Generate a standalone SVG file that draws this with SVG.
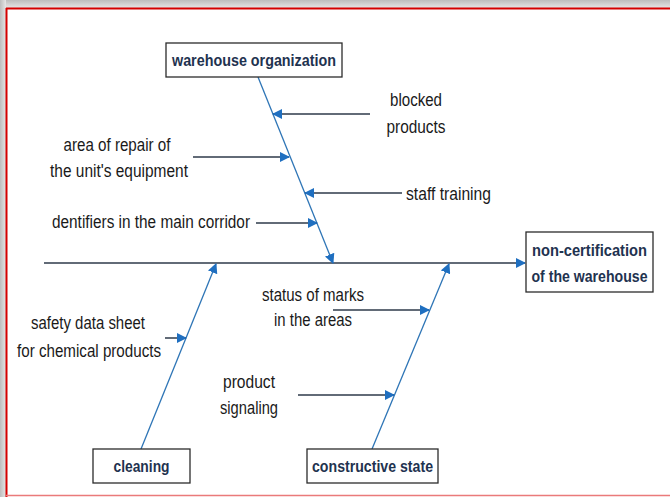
<svg xmlns="http://www.w3.org/2000/svg" width="670" height="497" viewBox="0 0 670 497">
  <defs>
    <linearGradient id="shadeTop" x1="0" y1="0" x2="0" y2="1">
      <stop offset="0" stop-color="#bdbdbd"/>
      <stop offset="1" stop-color="#e6e6e6"/>
    </linearGradient>
    <linearGradient id="shadeLeft" x1="0" y1="0" x2="1" y2="0">
      <stop offset="0" stop-color="#bdbdbd"/>
      <stop offset="1" stop-color="#e6e6e6"/>
    </linearGradient>
    <marker id="head" viewBox="0 0 10 10" refX="9" refY="5" markerWidth="10" markerHeight="10" markerUnits="userSpaceOnUse" orient="auto">
      <path d="M0,0 L10,5 L0,10 Z" fill="#1f6fc0"/>
    </marker>
  </defs>
  <style>
    .box { fill: #ffffff; stroke: #2b2b2b; stroke-width: 1.3; }
    .boxlabel { font-family: "Liberation Sans", Arial, sans-serif; font-weight: bold; font-size: 16.5px; fill: #1f3350; text-anchor: middle; }
    .label { font-family: "Liberation Sans", Arial, sans-serif; font-size: 17.5px; fill: #1a1a1a; text-anchor: middle; }
    .bone { stroke: #2e75b6; stroke-width: 1.3; fill: none; }
    .cause { stroke: #2e3a4a; stroke-width: 1.5; fill: none; }
  </style>

  <!-- page background and frame -->
  <rect x="0" y="0" width="670" height="497" fill="#ffffff"/>
  <rect x="0" y="0" width="670" height="8" fill="url(#shadeTop)"/>
  <rect x="0" y="0" width="6" height="497" fill="url(#shadeLeft)"/>
  <line x1="6" y1="8.5" x2="670" y2="8.5" stroke="#d40000" stroke-width="2"/>
  <line x1="6.5" y1="8" x2="6.5" y2="497" stroke="#d40000" stroke-width="2"/>
  <line x1="6" y1="495.5" x2="670" y2="495.5" stroke="#ea7a7a" stroke-width="1.5"/>

  <!-- connectors -->
  <g id="connectors">
    <!-- spine -->
    <line class="cause" x1="44" y1="263" x2="525" y2="263" marker-end="url(#head)"/>
    <!-- main bones -->
    <line class="bone" x1="258" y1="77" x2="333" y2="263" marker-end="url(#head)"/>
    <line class="bone" x1="141" y1="449" x2="216" y2="264" marker-end="url(#head)"/>
    <line class="bone" x1="372" y1="449" x2="449" y2="264" marker-end="url(#head)"/>
    <!-- sub causes -->
    <line class="cause" x1="370" y1="114" x2="273" y2="114" marker-end="url(#head)"/>
    <line class="cause" x1="193" y1="157" x2="289" y2="157" marker-end="url(#head)"/>
    <line class="cause" x1="402" y1="193" x2="305" y2="193" marker-end="url(#head)"/>
    <line class="cause" x1="256" y1="223" x2="317" y2="223" marker-end="url(#head)"/>
    <line class="cause" x1="165" y1="338" x2="186" y2="338" marker-end="url(#head)"/>
    <line class="cause" x1="333" y1="310" x2="429" y2="310" marker-end="url(#head)"/>
    <line class="cause" x1="298" y1="395" x2="394" y2="395" marker-end="url(#head)"/>
  </g>

  <!-- category and effect boxes -->
  <g id="warehouse-organization">
    <rect class="box" x="166" y="43" width="176" height="34"/>
    <text class="boxlabel" x="254" y="66" textLength="164" lengthAdjust="spacingAndGlyphs">warehouse organization</text>
  </g>
  <g id="non-certification">
    <rect class="box" x="526" y="232" width="127" height="60"/>
    <text class="boxlabel" x="589.5" y="256" textLength="115" lengthAdjust="spacingAndGlyphs">non-certification</text>
    <text class="boxlabel" x="589.5" y="282" textLength="116" lengthAdjust="spacingAndGlyphs">of the warehouse</text>
  </g>
  <g id="cleaning">
    <rect class="box" x="93" y="449" width="97" height="34"/>
    <text class="boxlabel" x="141.5" y="472" textLength="56" lengthAdjust="spacingAndGlyphs">cleaning</text>
  </g>
  <g id="constructive-state">
    <rect class="box" x="307" y="449" width="131" height="34"/>
    <text class="boxlabel" x="372.5" y="472" textLength="121" lengthAdjust="spacingAndGlyphs">constructive state</text>
  </g>

  <!-- cause labels -->
  <g id="blocked-products">
    <text class="label" x="416" y="106" textLength="52" lengthAdjust="spacingAndGlyphs">blocked</text>
    <text class="label" x="416" y="133" textLength="59" lengthAdjust="spacingAndGlyphs">products</text>
  </g>
  <g id="area-of-repair">
    <text class="label" x="117" y="151" textLength="107" lengthAdjust="spacingAndGlyphs">area of repair of</text>
    <text class="label" x="119" y="177" textLength="138" lengthAdjust="spacingAndGlyphs">the unit's equipment</text>
  </g>
  <g id="staff-training">
    <text class="label" x="448.5" y="200" textLength="85" lengthAdjust="spacingAndGlyphs">staff training</text>
  </g>
  <g id="identifiers">
    <text class="label" x="151" y="228" textLength="198" lengthAdjust="spacingAndGlyphs">dentifiers in the main corridor</text>
  </g>
  <g id="safety-data-sheet">
    <text class="label" x="88" y="329" textLength="114" lengthAdjust="spacingAndGlyphs">safety data sheet</text>
    <text class="label" x="89" y="357" textLength="144" lengthAdjust="spacingAndGlyphs">for chemical products</text>
  </g>
  <g id="status-of-marks">
    <text class="label" x="313" y="301" textLength="102" lengthAdjust="spacingAndGlyphs">status of marks</text>
    <text class="label" x="313" y="326" textLength="78" lengthAdjust="spacingAndGlyphs">in the areas</text>
  </g>
  <g id="product-signaling">
    <text class="label" x="249" y="388" textLength="52" lengthAdjust="spacingAndGlyphs">product</text>
    <text class="label" x="249" y="414" textLength="58" lengthAdjust="spacingAndGlyphs">signaling</text>
  </g>
</svg>
